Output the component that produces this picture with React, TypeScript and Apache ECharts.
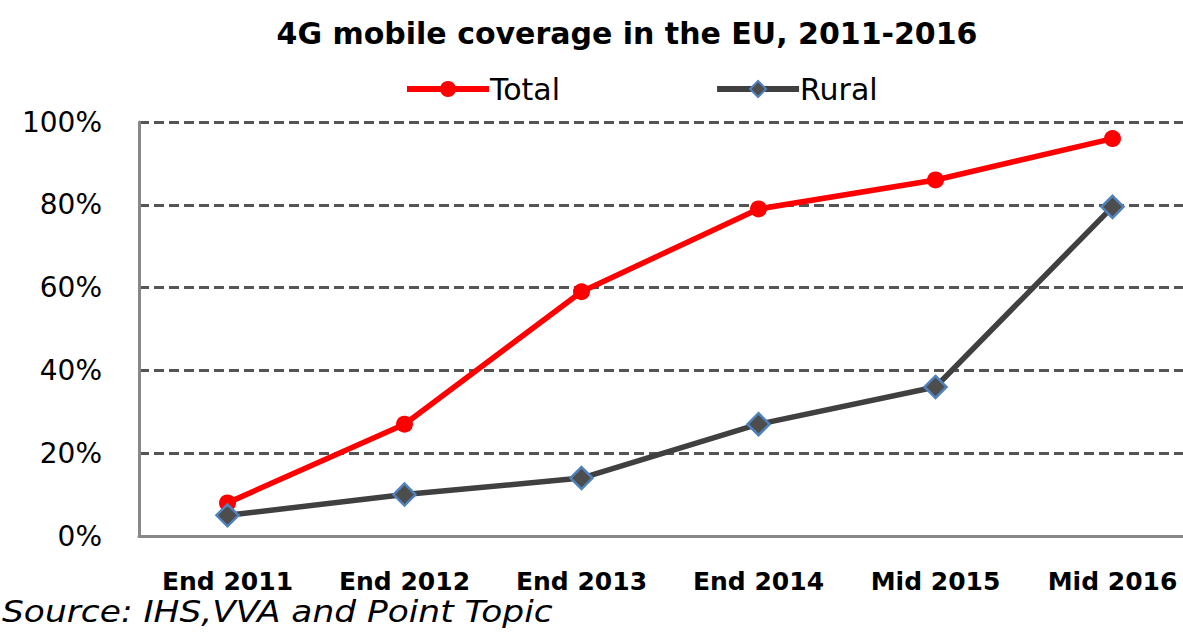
import React, { useEffect, useRef } from "react";
import * as echarts from "echarts";

const categories = ["End 2011", "End 2012", "End 2013", "End 2014", "Mid 2015", "Mid 2016"];
const totalValues = [8, 27, 59, 79, 86, 96];
const ruralValues = [5, 10, 14, 27, 36, 79.5];
const yTicks = [0, 20, 40, 60, 80, 100];

export default function App() {
  const ref = useRef<HTMLDivElement>(null);
  useEffect(() => {
    if (!ref.current) return;
    const chart = echarts.init(ref.current, undefined, { renderer: "svg" });
    const font = "DejaVu Sans, Verdana, sans-serif";
    chart.setOption({
      animation: false,
      backgroundColor: "#ffffff",
      title: {
        text: "4G mobile coverage in the EU, 2011-2016",
        left: 622,
        top: 13,
        textAlign: "center",
        textStyle: { fontFamily: font, fontSize: 30, fontWeight: "bold", color: "#000" },
      },
      legend: {
        top: 69,
        left: 399,
        itemWidth: 82,
        itemHeight: 20,
        itemGap: 154,
        lineStyle: { width: 6 },
        textStyle: { fontFamily: font, fontSize: 30, color: "#000", padding: [0, 0, 0, -4] },
        data: ["Total", "Rural"],
      },
      grid: { left: 139, top: 122, bottom: 105, right: 0, containLabel: false },
      xAxis: {
        type: "category",
        data: categories,
        boundaryGap: true,
        axisLine: { lineStyle: { color: "#888", width: 3 } },
        axisTick: { show: false },
        axisLabel: { fontFamily: font, fontSize: 25, fontWeight: "bold", color: "#000", margin: 33 },
      },
      yAxis: {
        type: "value",
        min: yTicks[0],
        max: yTicks[yTicks.length - 1],
        interval: 20,
        axisLine: { show: true, lineStyle: { color: "#888", width: 3 } },
        axisTick: { show: false },
        axisLabel: {
          fontFamily: font,
          fontSize: 28,
          color: "#000",
          margin: 37,
          formatter: (v: number) => v + "%",
        },
        splitLine: { lineStyle: { color: "#555", type: [10, 5], width: 3 } },
      },
      series: [
        {
          name: "Total",
          type: "line",
          data: totalValues,
          symbol: "circle",
          symbolSize: 17,
          lineStyle: { color: "#ff0000", width: 5.5 },
          itemStyle: { color: "#ff0000" },
          z: 3,
        },
        {
          name: "Rural",
          type: "line",
          data: ruralValues,
          symbol: "diamond",
          symbolSize: 22,
          lineStyle: { color: "#404040", width: 5.5 },
          itemStyle: { color: "#4d4d4d", borderColor: "#4f81bd", borderWidth: 2.5 },
          z: 4,
        },
      ],
      graphic: [
        {
          type: "text",
          left: 2,
          top: 596,
          scaleX: 1.11,
          style: {
            text: "Source: IHS,VVA and Point Topic",
            fontFamily: font,
            fontSize: 31,
            fontStyle: "italic",
            fill: "#000",
          },
        },
      ],
    });
    return () => chart.dispose();
  }, []);
  return (
    <div style={{ position: "fixed", left: 0, top: 0, width: 1183, height: 641, overflow: "hidden", background: "#fff" }}>
      <div ref={ref} style={{ width: 1201, height: 641 }} />
    </div>
  );
}
